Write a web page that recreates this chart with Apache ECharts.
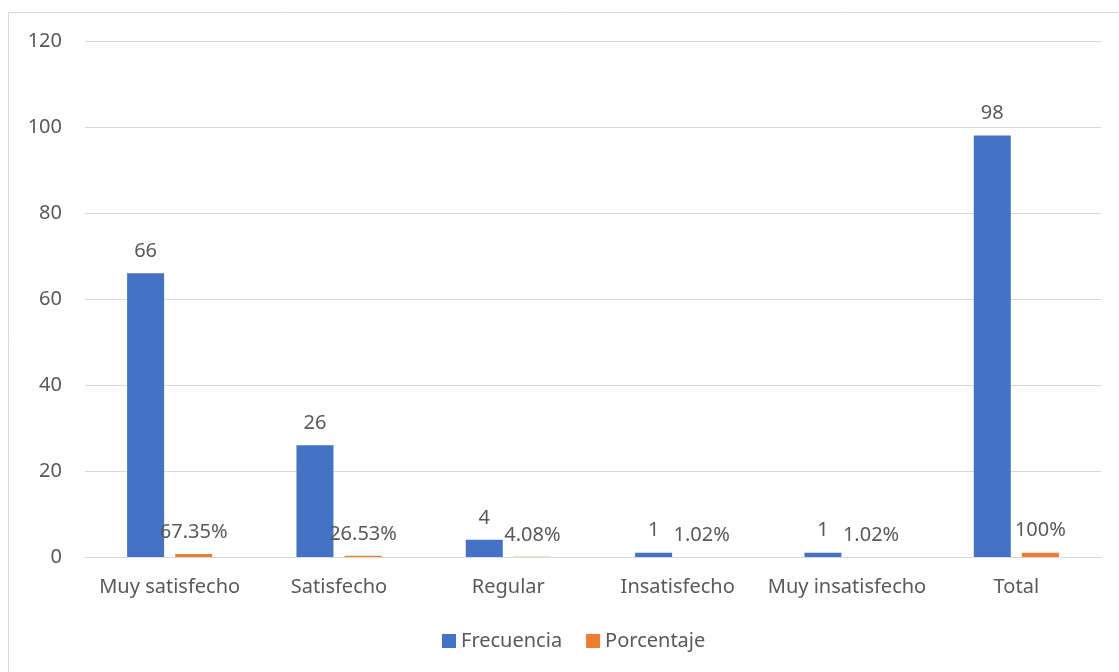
<!DOCTYPE html>
<html>
<head>
<meta charset="utf-8">
<script src="https://cdn.jsdelivr.net/npm/echarts@6/dist/echarts.min.js"></script>
<style>
  html, body { margin: 0; padding: 0; background: #fff; }
  #chart { width: 1119px; height: 672px; }
</style>
</head>
<body>
<div id="chart"></div>
<script>
const categorias = ['Muy satisfecho', 'Satisfecho', 'Regular', 'Insatisfecho', 'Muy insatisfecho', 'Total'];
const frecuencia = [66, 26, 4, 1, 1, 98];
const porcentaje = [0.6735, 0.2653, 0.0408, 0.0102, 0.0102, 1];
const yTicks = { min: 0, max: 120, interval: 20 };

const textColor = '#595959';
const fontFamily = '"Noto Sans", "Open Sans", sans-serif';
const fontSize = 20;

const chart = echarts.init(document.getElementById('chart'));

const option = {
    animation: false,
    textStyle: { fontFamily: fontFamily, color: textColor },
    graphic: [{
        type: 'rect',
        shape: { x: 8.5, y: 12.5, width: 1300, height: 900 },
        style: { fill: 'none', stroke: '#d9d9d9', lineWidth: 1 },
        silent: true
    }],
    grid: { left: 85, right: 18, top: 41, bottom: 115 },
    legend: {
        bottom: 16,
        left: 437,
        itemWidth: 14,
        itemHeight: 14,
        itemGap: 24,
        icon: 'rect',
        textStyle: { fontSize: fontSize, color: textColor, fontFamily: fontFamily },
        data: ['Frecuencia', 'Porcentaje']
    },
    xAxis: {
        type: 'category',
        data: categorias,
        axisLine: { lineStyle: { color: '#d9d9d9', width: 1 } },
        axisTick: { show: false },
        axisLabel: { fontSize: fontSize, color: textColor, margin: 20, interval: 0 }
    },
    yAxis: {
        type: 'value',
        min: yTicks.min,
        max: yTicks.max,
        interval: yTicks.interval,
        axisLine: { show: false },
        axisTick: { show: false },
        splitLine: { lineStyle: { color: '#d9d9d9', width: 1 } },
        axisLabel: { fontSize: fontSize, color: textColor, margin: 23 }
    },
    series: [
        {
            name: 'Frecuencia',
            type: 'bar',
            data: frecuencia,
            barWidth: 37,
            barGap: '30%',
            itemStyle: { color: '#4472C4' },
            label: {
                show: true,
                position: 'top',
                distance: 12,
                fontSize: fontSize,
                color: textColor
            }
        },
        {
            name: 'Porcentaje',
            type: 'bar',
            data: porcentaje,
            barWidth: 37,
            itemStyle: { color: '#ED7D31' },
            label: {
                show: true,
                position: 'top',
                distance: 12,
                fontSize: fontSize,
                color: textColor,
                formatter: (p) => (+(p.value * 100).toFixed(2)) + '%'
            }
        }
    ]
};

chart.setOption(option);
</script>
</body>
</html>
